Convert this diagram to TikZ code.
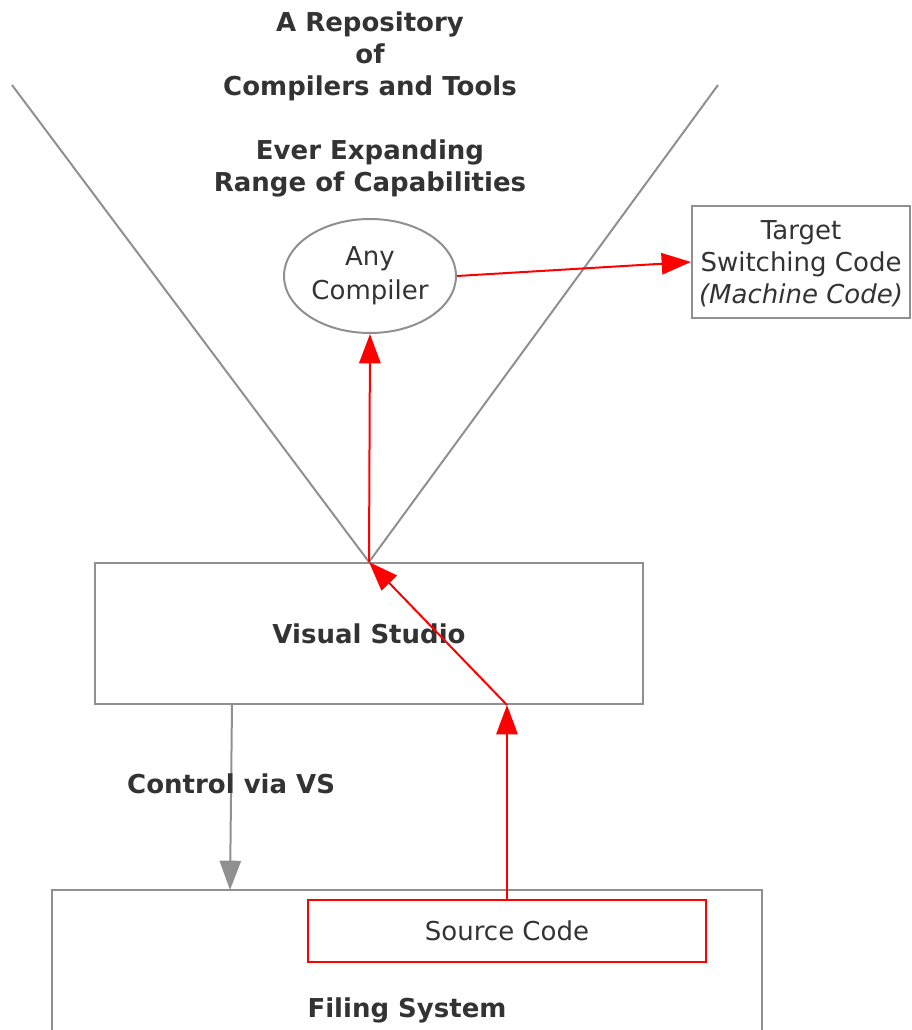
\documentclass[tikz,border=0pt]{standalone}
\usepackage{fontspec}
\setmainfont{DejaVu Sans}
\usetikzlibrary{arrows.meta,positioning,shapes.geometric}
\definecolor{inktext}{HTML}{333333}
\definecolor{frameline}{HTML}{909090}
\definecolor{flowred}{HTML}{FF0000}

\begin{document}
\begin{tikzpicture}[x=0.75pt,y=-0.75pt,line width=1.5pt,
 font=\fontsize{19.5}{24}\selectfont,text=inktext,
 box/.style={draw=frameline,rectangle,inner sep=0pt,align=center},
 heading/.style={font=\fontsize{19.5}{24}\selectfont\bfseries},
 redarr/.style={draw=flowred,-{Triangle[length=22pt,width=16pt]}},
 grayarr/.style={draw=frameline,-{Triangle[length=22pt,width=16pt]}}]
\useasboundingbox (0,0) rectangle (912,1030);
\clip (0,0) rectangle (912,1030);
\node[heading,align=center] (repo) at (370,104)
 {A Repository\\of\\Compilers and Tools\\ \\Ever Expanding\\Range of Capabilities};
\node[draw=frameline,ellipse,inner sep=0pt,minimum width=129pt,minimum height=85.5pt,align=center] (anyc) at (370,276) {Any\\[1.5pt]Compiler};
\node[box,minimum width=163.5pt,minimum height=84pt,text depth=-4.5pt] (target) at (801,262) {Target\\Switching Code\\\textit{(Machine Code)}};
\node[box,heading,minimum width=411pt,minimum height=105.75pt] (vs) at (369,633.5) {Visual Studio};
\node[box,minimum width=532.5pt,minimum height=120pt] (fs) at (407,970) {};
\node[heading] (fslabel) at (407,1010) {Filing System};
\node[box,draw=flowred,minimum width=298.5pt,minimum height=46.5pt] (src) at (507,931) {Source Code};
% the widening cone above Visual Studio
\coordinate (lt) at (12,85);
\coordinate (rt) at (718,85);
\draw[frameline] (lt) -- (vs.north) -- (rt);
% flows
\draw[redarr] (anyc.east) -- (target.west);
\draw[redarr] (vs.north) -- (anyc.south);
\coordinate (bend) at (vs.south -| src.north);
\draw[redarr] (src.north) -- (bend);
\draw[redarr] (bend) -- (vs.north);
\coordinate (ctl) at (232,704);
\draw[grayarr] (ctl) -- (230,890) node[heading,pos=0.43] (ctllabel) {Control via VS};
\end{tikzpicture}
\end{document}
